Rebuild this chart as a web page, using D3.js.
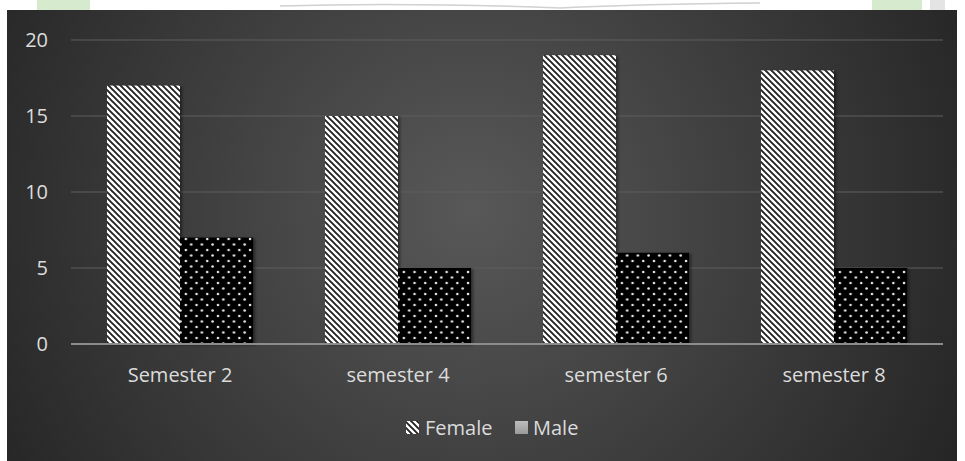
<!DOCTYPE html>
<html>
<head>
<meta charset="utf-8">
<script src="https://cdn.jsdelivr.net/npm/d3@7"></script>
<style>
  html, body { margin: 0; padding: 0; background: #ffffff; }
  svg { display: block; }
  text { font-family: "Open Sans", sans-serif; fill: #dcdcdc; }
</style>
</head>
<body>
<div id="chart"></div>
<script>
// chart data
var categories = ["Semester 2", "semester 4", "semester 6", "semester 8"];
var seriesNames = ["Female", "Male"];
var female = [17, 15, 19, 18];
var male = [7, 5, 6, 5];
var yTicks = [0, 5, 10, 15, 20];

var W = 965, H = 461;
var margin = {top: 40, right: 22, bottom: 117, left: 71};

var svg = d3.select("#chart").append("svg")
    .attr("width", W)
    .attr("height", H);

var defs = svg.append("defs");

// background gradient
var bg = defs.append("radialGradient")
    .attr("id", "bg")
    .attr("gradientUnits", "userSpaceOnUse")
    .attr("cx", 470).attr("cy", 210).attr("r", 560);
bg.append("stop").attr("offset", "0%").attr("stop-color", "#585858");
bg.append("stop").attr("offset", "100%").attr("stop-color", "#242424");

// diagonal hatch for Female
var hatch = defs.append("pattern")
    .attr("id", "hatch")
    .attr("patternUnits", "userSpaceOnUse")
    .attr("width", 6).attr("height", 6);
hatch.append("rect").attr("width", 6).attr("height", 6).attr("fill", "#ffffff");
hatch.append("path")
    .attr("d", "M-1,-1 L7,7 M-4,2 L2,8 M4,-2 L10,4")
    .attr("stroke", "#222222")
    .attr("stroke-width", 1.9);

// dotted pattern for Male
var dots = defs.append("pattern")
    .attr("id", "dots")
    .attr("patternUnits", "userSpaceOnUse")
    .attr("width", 10.7).attr("height", 11);
dots.append("rect").attr("width", 10.7).attr("height", 11).attr("fill", "#000000");
dots.append("circle").attr("cx", 2.5).attr("cy", 2.5).attr("r", 1.3).attr("fill", "#e6e6e6");
dots.append("circle").attr("cx", 7.85).attr("cy", 8).attr("r", 1.3).attr("fill", "#e6e6e6");

// legend swatch gradient for Male
var mg = defs.append("linearGradient")
    .attr("id", "maleSwatch")
    .attr("x1", 0).attr("y1", 0).attr("x2", 0).attr("y2", 1);
mg.append("stop").attr("offset", "0%").attr("stop-color", "#bdbdbd");
mg.append("stop").attr("offset", "100%").attr("stop-color", "#9a9a9a");

var shadow = defs.append("filter").attr("id", "shadow")
    .attr("x", "-10%").attr("y", "-10%").attr("width", "130%").attr("height", "130%");
shadow.append("feDropShadow")
    .attr("dx", 2).attr("dy", 1).attr("stdDeviation", 1.5)
    .attr("flood-color", "#000").attr("flood-opacity", 0.45);

// page strip at the top (scanned page behind the chart)
svg.append("rect").attr("x", 37).attr("y", 0).attr("width", 53).attr("height", 10).attr("fill", "#d6ebcd");
svg.append("rect").attr("x", 872).attr("y", 0).attr("width", 50).attr("height", 10).attr("fill", "#d6ebcd");
svg.append("rect").attr("x", 930).attr("y", 0).attr("width", 15).attr("height", 10).attr("fill", "#e4e4e4");
svg.append("path")
    .attr("d", "M280,6 Q400,2 560,8 Q640,4 760,3")
    .attr("fill", "none").attr("stroke", "#d0d0d0").attr("stroke-width", 1.5);

// chart background
svg.append("rect")
    .attr("x", 7).attr("y", 10)
    .attr("width", 950).attr("height", H - 10)
    .attr("fill", "url(#bg)");

var plotW = W - margin.left - margin.right;
var plotH = H - margin.top - margin.bottom;

var x0 = d3.scaleBand()
    .domain(categories)
    .range([margin.left, margin.left + plotW]);

var x1 = d3.scaleBand()
    .domain(seriesNames)
    .range([x0.bandwidth() * 0.165, x0.bandwidth() * 0.835]);

var y = d3.scaleLinear()
    .domain([0, 20])
    .range([margin.top + plotH, margin.top]);

// gridlines
svg.append("g")
    .selectAll("line")
    .data(yTicks.filter(function(d) { return d > 0; }))
    .enter().append("line")
    .attr("x1", margin.left).attr("x2", margin.left + plotW)
    .attr("y1", function(d) { return y(d); })
    .attr("y2", function(d) { return y(d); })
    .attr("stroke", "#5e5e5e")
    .attr("stroke-width", 1);

// y tick labels
svg.append("g")
    .selectAll("text")
    .data(yTicks)
    .enter().append("text")
    .attr("x", 48)
    .attr("y", function(d) { return y(d); })
    .attr("dy", "0.35em")
    .attr("text-anchor", "end")
    .style("font-size", "20px")
    .text(function(d) { return d; });

// bars
var table = categories.map(function(c, i) {
    return {cat: c, values: [{s: "Female", v: female[i]}, {s: "Male", v: male[i]}]};
});

var groups = svg.append("g")
    .selectAll("g")
    .data(table)
    .enter().append("g")
    .attr("transform", function(d) { return "translate(" + x0(d.cat) + ",0)"; });

groups.selectAll("rect")
    .data(function(d) { return d.values; })
    .enter().append("rect")
    .attr("x", function(d) { return x1(d.s); })
    .attr("width", x1.bandwidth())
    .attr("y", function(d) { return y(d.v); })
    .attr("height", function(d) { return y(0) - y(d.v); })
    .attr("fill", function(d) { return d.s === "Female" ? "url(#hatch)" : "url(#dots)"; })
    .attr("filter", "url(#shadow)");

// baseline
svg.append("line")
    .attr("x1", margin.left).attr("x2", margin.left + plotW)
    .attr("y1", y(0)).attr("y2", y(0))
    .attr("stroke", "#8c8c8c")
    .attr("stroke-width", 2);

// category labels
svg.append("g")
    .selectAll("text")
    .data(categories)
    .enter().append("text")
    .attr("x", function(d) { return x0(d) + x0.bandwidth() / 2; })
    .attr("y", y(0) + 31)
    .attr("dy", "0.35em")
    .attr("text-anchor", "middle")
    .style("font-size", "20px")
    .text(function(d) { return d; });

// legend
var legend = svg.append("g").attr("transform", "translate(406,428)");
legend.append("rect")
    .attr("x", 0).attr("y", -7).attr("width", 13).attr("height", 13)
    .attr("fill", "url(#hatch)");
legend.append("text")
    .attr("x", 19).attr("y", 0).attr("dy", "0.35em")
    .style("font-size", "20px")
    .text(seriesNames[0]);
legend.append("rect")
    .attr("x", 109).attr("y", -7).attr("width", 13).attr("height", 13)
    .attr("fill", "url(#maleSwatch)");
legend.append("text")
    .attr("x", 127).attr("y", 0).attr("dy", "0.35em")
    .style("font-size", "20px")
    .text(seriesNames[1]);
</script>
</body>
</html>
